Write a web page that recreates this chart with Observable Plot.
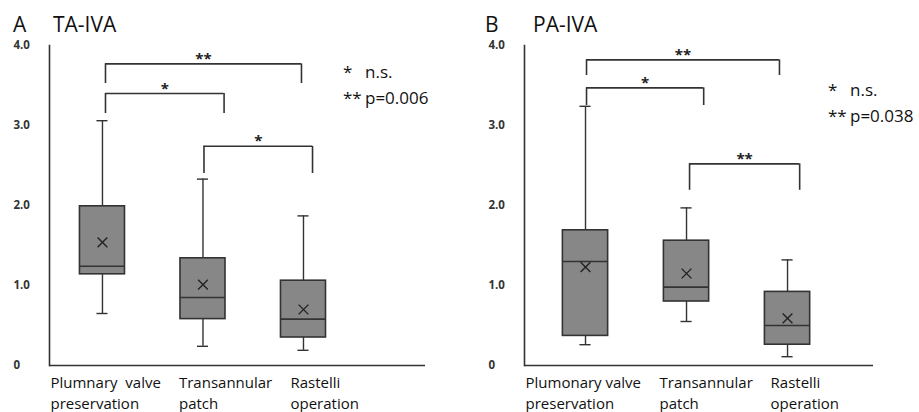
<!DOCTYPE html>
<html><head><meta charset="utf-8">
<script src="https://cdn.jsdelivr.net/npm/d3@7"></script>
<script src="https://cdn.jsdelivr.net/npm/@observablehq/plot@0.6"></script>
<style>
body{margin:0;background:#fff;font-family:"Open Sans",sans-serif;}
#wrap{position:relative;width:919px;height:412px;overflow:hidden;}
.panel{position:absolute;top:0;width:459px;height:412px;}
.panel svg{position:absolute;top:38px;left:0;}
.title{position:absolute;top:10px;font-size:21px;color:#111;line-height:29px;white-space:nowrap;}
.legend{position:absolute;font-size:17px;color:#111;line-height:26px;white-space:nowrap;}
.legend span.s{display:inline-block;width:22px;}
</style></head><body><div id="wrap"></div>
<script>
// ---------- data ----------
const yTicks = [0, 1, 2, 3, 4];
const yTickLabels = ["0", "1.0", "2.0", "3.0", "4.0"];

// Panel A: TA-IVA
const categoriesA = ["Plumnary  valve\npreservation", "Transannular\npatch", "Rastelli\noperation"];
const whiskerLowA  = [0.65, 0.24, 0.19];
const q1A          = [1.14, 0.58, 0.35];
const medianA      = [1.24, 0.85, 0.58];
const q3A          = [1.99, 1.34, 1.06];
const whiskerHighA = [3.06, 2.33, 1.87];
const meanA        = [1.54, 1.01, 0.70];
const bracketFromA  = [1.03, 1.03, 2.01];
const bracketToA    = [2.98, 2.21, 3.09];
const bracketTopA   = [3.77, 3.40, 2.74];
const bracketLegA   = [3.525, 3.15, 2.40];
const bracketLabelA = ["**", "*", "*"];
const legendA = [["*", "n.s."], ["**", "p=0.006"]];

// Panel B: PA-IVA
const categoriesB = ["Plumonary valve\npreservation", "Transannular\npatch", "Rastelli\noperation"];
const whiskerLowB  = [0.26, 0.55, 0.11];
const q1B          = [0.37, 0.80, 0.26];
const medianB      = [1.30, 0.98, 0.50];
const q3B          = [1.69, 1.56, 0.92];
const whiskerHighB = [3.24, 1.97, 1.32];
const meanB        = [1.23, 1.15, 0.59];
const bracketFromB  = [1.01, 1.01, 2.03];
const bracketToB    = [2.92, 2.17, 3.12];
const bracketTopB   = [3.82, 3.47, 2.52];
const bracketLegB   = [3.625, 3.25, 2.19];
const bracketLabelB = ["**", "*", "**"];
const legendB = [["*", "n.s."], ["**", "p=0.038"]];

// ---------- layout / style ----------
const panels = [
  {letter: "A", name: "TA-IVA", left: 0, nameLeft: 53, letterLeft: 13,
   xDomain: [0.473, 4.214], marginLeft: 49, marginRight: 34,
   labelDx: [-52, -24, -13], legendPos: [343, 59],
   cats: categoriesA, lo: whiskerLowA, q1: q1A, med: medianA, q3: q3A, hi: whiskerHighA, mean: meanA,
   bFrom: bracketFromA, bTo: bracketToA, bTop: bracketTopA, bLeg: bracketLegA, bLab: bracketLabelA, legend: legendA},
  {letter: "B", name: "PA-IVA", left: 460, nameLeft: 73, letterLeft: 25,
   xDomain: [0.396, 3.851], marginLeft: 64, marginRight: 46,
   labelDx: [-60, -27, -17], legendPos: [368, 77],
   cats: categoriesB, lo: whiskerLowB, q1: q1B, med: medianB, q3: q3B, hi: whiskerHighB, mean: meanB,
   bFrom: bracketFromB, bTo: bracketToB, bTop: bracketTopB, bLeg: bracketLegB, bLab: bracketLabelB, legend: legendB}
];
const boxHalf = 0.224, capHalf = 0.055;
const lineColor = "#333", boxFill = "#878787";
const font = "Open Sans, sans-serif";

const wrap = document.getElementById("wrap");
for (const p of panels) {
  const idx = d3.range(p.cats.length);
  const pos = i => i + 1;
  const bi = d3.range(p.bFrom.length);
  const marks = [
    Plot.ruleY([0], {stroke: lineColor, strokeWidth: 1.6}),
    Plot.frame({anchor: "left", stroke: lineColor, strokeWidth: 1.6}),
    Plot.axisY({ticks: yTicks, tickFormat: (d) => yTickLabels[yTicks.indexOf(d)], tickSize: 0, tickPadding: 0,
      textAnchor: "start", dx: -36, fontSize: 11.5, fontWeight: "bold", fill: "#333", fontFamily: font}),
    // whiskers
    Plot.ruleX(idx, {x: pos, y1: i => p.lo[i], y2: i => p.hi[i], stroke: lineColor, strokeWidth: 1.4}),
    Plot.ruleY(idx, {y: i => p.lo[i], x1: i => pos(i) - capHalf, x2: i => pos(i) + capHalf, stroke: lineColor, strokeWidth: 1.4}),
    Plot.ruleY(idx, {y: i => p.hi[i], x1: i => pos(i) - capHalf, x2: i => pos(i) + capHalf, stroke: lineColor, strokeWidth: 1.4}),
    // boxes
    Plot.rect(idx, {x1: i => pos(i) - boxHalf, x2: i => pos(i) + boxHalf, y1: i => p.q1[i], y2: i => p.q3[i],
      fill: boxFill, stroke: lineColor, strokeWidth: 1.6}),
    Plot.ruleY(idx, {y: i => p.med[i], x1: i => pos(i) - boxHalf, x2: i => pos(i) + boxHalf, stroke: lineColor, strokeWidth: 1.6}),
    Plot.dot(idx, {x: pos, y: i => p.mean[i], symbol: "times", r: 4.5, stroke: "#222", strokeWidth: 1.4}),
    // brackets
    Plot.ruleY(bi, {y: i => p.bTop[i], x1: i => p.bFrom[i], x2: i => p.bTo[i], stroke: lineColor, strokeWidth: 1.6}),
    Plot.ruleX(bi, {x: i => p.bFrom[i], y1: i => p.bLeg[i], y2: i => p.bTop[i], stroke: lineColor, strokeWidth: 1.6}),
    Plot.ruleX(bi, {x: i => p.bTo[i], y1: i => p.bLeg[i], y2: i => p.bTop[i], stroke: lineColor, strokeWidth: 1.6}),
    Plot.text(bi, {x: i => (p.bFrom[i] + p.bTo[i]) / 2, y: i => p.bTop[i], text: i => p.bLab[i],
      lineAnchor: "bottom", dy: 0, fontSize: 15, fontWeight: "bold", fill: "#222", fontFamily: font}),
    // category labels
    ...idx.map(i => Plot.text([i], {x: pos, y: () => 0, text: d => p.cats[d], textAnchor: "start", lineAnchor: "top",
      dx: p.labelDx[i], dy: 8, lineHeight: 1.4, fontSize: 15, fill: "#111", fontFamily: font}))
  ];
  const chart = Plot.plot({
    width: 459, height: 374,
    marginTop: 7, marginBottom: 47, marginLeft: p.marginLeft, marginRight: p.marginRight,
    x: {domain: p.xDomain, axis: null},
    y: {domain: [0, 4]},
    style: {fontFamily: font, overflow: "visible"},
    marks
  });
  const div = document.createElement("div");
  div.className = "panel";
  div.style.left = p.left + "px";
  div.appendChild(chart);
  const t1 = document.createElement("div"); t1.className = "title"; t1.style.left = p.letterLeft + "px"; t1.textContent = p.letter;
  const t2 = document.createElement("div"); t2.className = "title"; t2.style.left = p.nameLeft + "px"; t2.textContent = p.name;
  div.appendChild(t1); div.appendChild(t2);
  const lg = document.createElement("div"); lg.className = "legend";
  lg.style.left = p.legendPos[0] + "px"; lg.style.top = p.legendPos[1] + "px";
  lg.innerHTML = p.legend.map(([s, t]) => `<div><span class="s">${s}</span>${t}</div>`).join("");
  div.appendChild(lg);
  wrap.appendChild(div);
}
</script></body></html>
